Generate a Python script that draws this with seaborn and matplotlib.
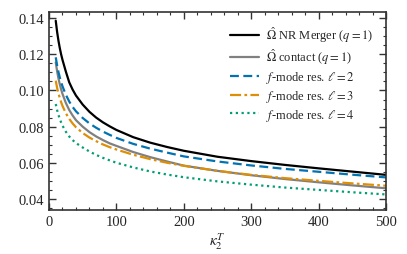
import numpy as np
import pandas as pd
import seaborn as sns
import matplotlib
matplotlib.use("Agg")
import matplotlib.pyplot as plt
from matplotlib.ticker import MultipleLocator, FormatStrFormatter

# ---- data ----
kappa = [10, 12, 14, 16, 18, 20, 25, 30, 35, 40, 50, 60, 70, 80, 90, 100,
         125, 150, 175, 200, 250, 300, 350, 400, 450, 500]
nr_merger = [0.1385, 0.1324, 0.1275, 0.1234, 0.1199, 0.1169, 0.1104, 0.1045, 0.1005, 0.0972,
             0.0922, 0.0882, 0.0850, 0.0824, 0.0802, 0.0782, 0.0742, 0.0712, 0.0688, 0.0667,
             0.0634, 0.0610, 0.0589, 0.0570, 0.0552, 0.0534]
contact   = [0.1155, 0.1107, 0.1067, 0.1034, 0.1006, 0.0981, 0.0931, 0.0892, 0.0862, 0.0836,
             0.0800, 0.0770, 0.0746, 0.0726, 0.0708, 0.0694, 0.0660, 0.0632, 0.0608, 0.0585,
             0.0556, 0.0532, 0.0511, 0.0493, 0.0476, 0.0460]
fmode_l2  = [0.1183, 0.1139, 0.1102, 0.1072, 0.1046, 0.1023, 0.0976, 0.0939, 0.0909, 0.0885,
             0.0848, 0.0818, 0.0794, 0.0773, 0.0755, 0.0738, 0.0705, 0.0679, 0.0657, 0.0636,
             0.0608, 0.0586, 0.0567, 0.0551, 0.0535, 0.0520]
fmode_l3  = [0.1054, 0.1015, 0.0984, 0.0958, 0.0935, 0.0915, 0.0874, 0.0843, 0.0818, 0.0797,
             0.0765, 0.0740, 0.0720, 0.0702, 0.0687, 0.0674, 0.0645, 0.0621, 0.0601, 0.0584,
             0.0556, 0.0534, 0.0516, 0.0501, 0.0487, 0.0474]
fmode_l4  = [0.0925, 0.0892, 0.0865, 0.0843, 0.0823, 0.0806, 0.0772, 0.0746, 0.0726, 0.0710,
             0.0685, 0.0663, 0.0644, 0.0628, 0.0614, 0.0601, 0.0575, 0.0553, 0.0536, 0.0521,
             0.0498, 0.0480, 0.0464, 0.0451, 0.0438, 0.0426]

labels = [r'$\hat{\Omega}$ NR Merger ($q=1$)',
          r'$\hat{\Omega}$ contact ($q=1$)',
          r'$f$-mode res. $\ell=2$',
          r'$f$-mode res. $\ell=3$',
          r'$f$-mode res. $\ell=4$']
series = [nr_merger, contact, fmode_l2, fmode_l3, fmode_l4]
colors = ['black', '#808080', '#0173B2', '#DE8F05', '#029E73']
styles = ['-', '-', (0, (4, 2)), (0, (5, 1.5, 1.2, 1.5)), (0, (1, 1.6))]

sns.set_theme(style='ticks')
plt.rcParams['font.family'] = ['Liberation Serif', 'DejaVu Serif']
plt.rcParams['mathtext.fontset'] = 'stix'

fig = plt.figure(figsize=(4.07, 2.55), dpi=100)
ax = fig.add_axes([0.1204, 0.1725, 0.828, 0.7765])

for lab, vals, c, ls in zip(labels, series, colors, styles):
    df = pd.DataFrame({'kappa': kappa, 'omega': vals})
    sns.lineplot(data=df, x='kappa', y='omega', ax=ax, color=c, linestyle=ls,
                 linewidth=1.6, label=lab)

ax.set_xlim(0, 500)
ax.set_ylim(0.034, 0.1433)
ax.xaxis.set_major_locator(MultipleLocator(100))
ax.xaxis.set_minor_locator(MultipleLocator(20))
ax.yaxis.set_major_locator(MultipleLocator(0.02))
ax.yaxis.set_minor_locator(MultipleLocator(0.005))
ax.yaxis.set_major_formatter(FormatStrFormatter('%.2f'))
ax.tick_params(which='both', direction='in', top=True, right=True, labelsize=10.5, color='#333333')
ax.tick_params(which='major', length=5, width=1.0)
ax.tick_params(which='minor', length=2.5, width=0.8)
for s in ax.spines.values():
    s.set_linewidth(1.2)
    s.set_color('#333333')
ax.set_xlabel(r'$\kappa_2^T$', fontsize=11, labelpad=2)
ax.set_ylabel('')

leg = ax.legend(loc='upper right', frameon=False, fontsize=9, handlelength=2.3,
                handletextpad=0.6, labelspacing=0.22, borderaxespad=0.6)

fig.savefig('out.png', dpi=100)
